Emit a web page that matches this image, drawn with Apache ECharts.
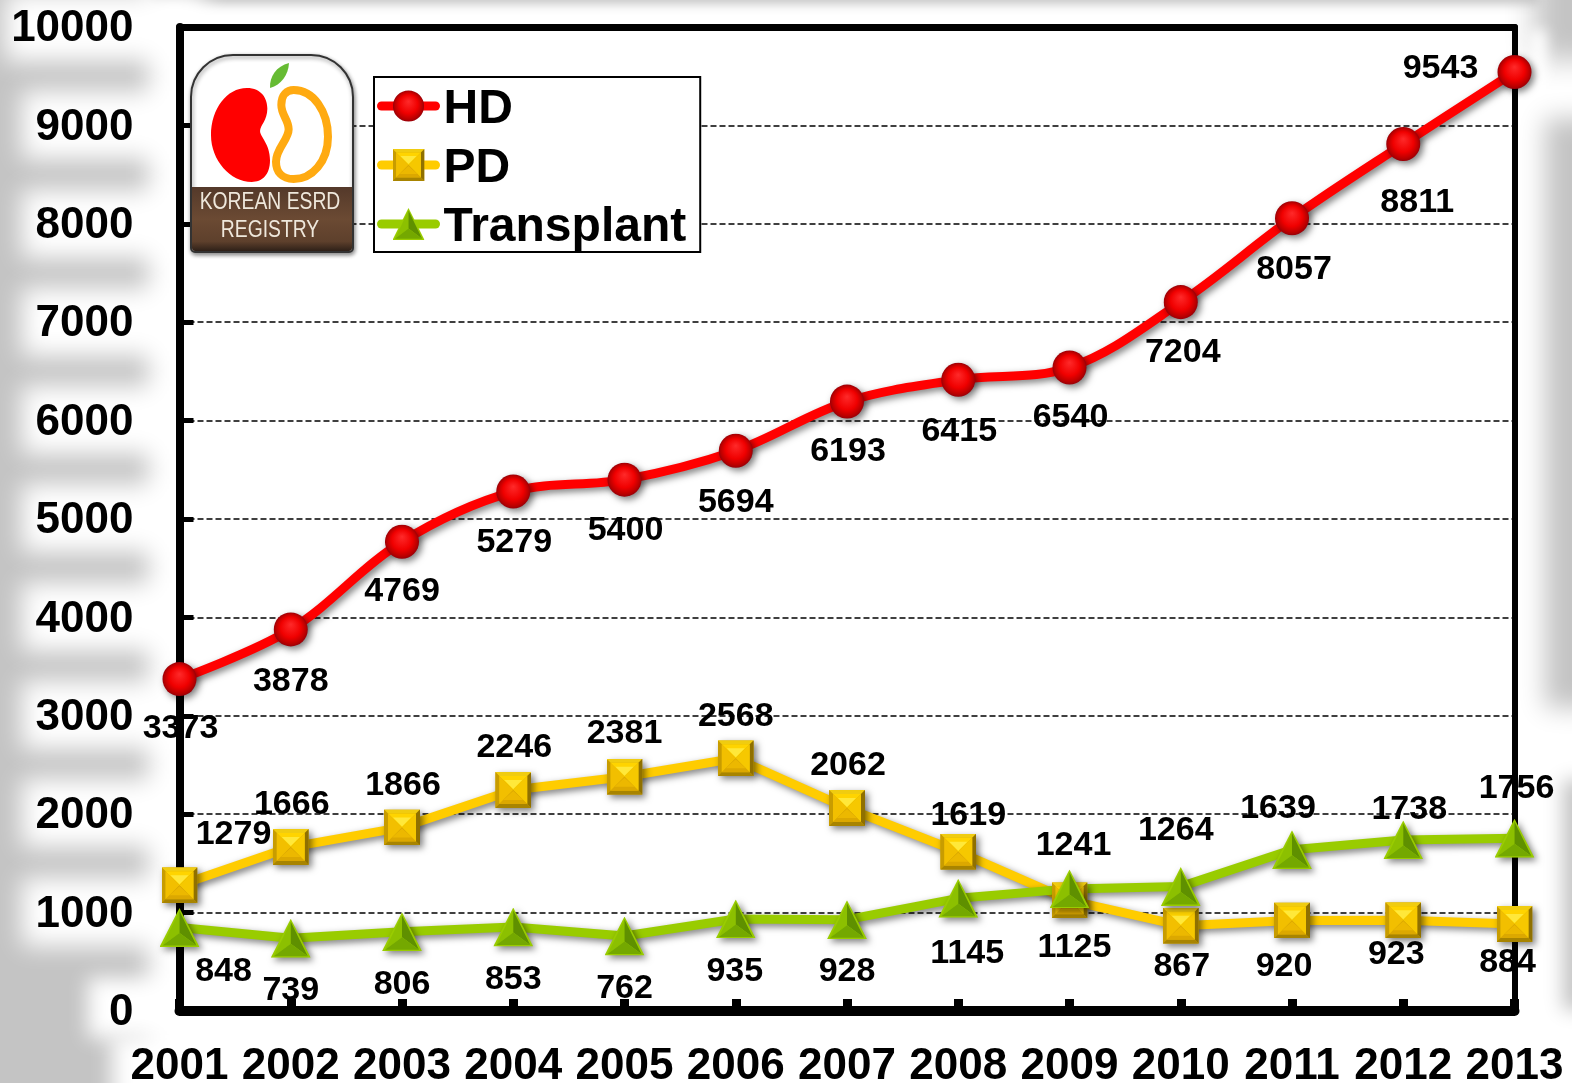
<!DOCTYPE html>
<html><head><meta charset="utf-8">
<style>html,body{margin:0;padding:0;background:#fff}#c{width:1572px;height:1083px}</style>
<script src="https://cdn.jsdelivr.net/npm/echarts@6/dist/echarts.min.js"></script></head>
<body><div id="c"></div>
<script>
const years=['2001','2002','2003','2004','2005','2006','2007','2008','2009','2010','2011','2012','2013'];
const hd=[3373,3878,4769,5279,5400,5694,6193,6415,6540,7204,8057,8811,9543];
const pd=[1279,1666,1866,2246,2381,2568,2062,1619,1125,867,920,923,884];
const tx=[848,739,806,853,762,935,928,1145,1241,1264,1639,1738,1756];
// label offsets from each point (style only)
const hdOff=[[1,50],[0,52],[0,50],[1,51],[1,51],[0,52],[1,50],[1,52],[1,50],[2,50],[2,51],[14,59],[-74,-3]];
const pdOff=[[54,-51],[1,-42],[1,-42],[1,-42],[0,-43],[0,-42],[1,-42],[10,-36],[5,47],[1,41],[-8,46],[-7,34],[-7,39]];
const txOff=[[44,44],[0,52],[0,53],[0,53],[0,53],[-1,53],[0,52],[9,55],[4,-43],[-5,-56],[-14,-41],[6,-30],[2,-50]];
const FONT='"Liberation Sans",Arial,sans-serif';
const svg=s=>'image://data:image/svg+xml;charset=utf-8,'+encodeURIComponent(s);
const symHD=svg(`<svg xmlns="http://www.w3.org/2000/svg" width="72" height="72" viewBox="0 0 36 36"><defs><radialGradient id="g" cx="50%" cy="50%" r="50%" fx="50%" fy="35%"><stop offset="0" stop-color="#ff2a2a"/><stop offset=".6" stop-color="#f00000"/><stop offset=".88" stop-color="#bb0000"/><stop offset="1" stop-color="#980008"/></radialGradient></defs><circle cx="18" cy="18" r="17.5" fill="url(#g)"/></svg>`);
const symPD=svg(`<svg xmlns="http://www.w3.org/2000/svg" width="72" height="72" viewBox="0 0 36 36"><rect width="36" height="36" fill="#d4a800"/><polygon points="0,0 36,0 32,4 4,4" fill="#f0cc10"/><polygon points="0,0 4,4 4,32 0,36" fill="#c89c00"/><polygon points="36,0 36,36 32,32 32,4" fill="#8f7000"/><polygon points="0,36 36,36 32,32 4,32" fill="#a88400"/><polygon points="4,4 32,4 18,18" fill="#ffd400"/><polygon points="4,4 4,32 18,18" fill="#f2bf00"/><polygon points="32,4 32,32 18,18" fill="#f6c800"/><polygon points="4,32 32,32 18,18" fill="#dca800"/><polygon points="9,8 27,8 18,17" fill="#ffe83a"/><polygon points="18,19 8,28 28,28" fill="#ecb800"/></svg>`);
const symTX=svg(`<svg xmlns="http://www.w3.org/2000/svg" width="80" height="78" viewBox="0 0 40 39"><polygon points="20,0 40,39 0,39" fill="#99cc00"/><polygon points="20,3 3,37.5 20,25" fill="#8cc000"/><polygon points="20,3 37,37.5 20,25" fill="#5f9000"/><polygon points="3,37.5 37,37.5 20,25" fill="#74a800"/></svg>`);
const shadow={shadowColor:'rgba(0,0,0,0.5)',shadowBlur:7,shadowOffsetX:3,shadowOffsetY:3};
function lineSeries(name,values,color,symbol,size,smooth){
  return {type:'line',name,data:values,smooth,z:5,clip:false,symbol,symbolSize:size,showAllSymbol:true,
    lineStyle:{color,width:9,cap:'round',...shadow},itemStyle:{color,...shadow},label:{show:false},emphasis:{disabled:true}};
}
function labelSeries(name,values,offs){
  return {type:'scatter',name,z:1,clip:false,silent:true,symbolSize:1,itemStyle:{opacity:0},
    data:values.map((v,i)=>({value:v,label:{offset:offs[i]}})),
    label:{show:true,position:'inside',opacity:1,color:'#000',fontFamily:FONT,fontWeight:'bold',fontSize:34,formatter:p=>String(p.value)}};
}
const GRAY='#c4c4c4', OFF=4000;
// soft-edged rectangles: only the blurred shadow is on the page
const soft=(color,z,x,y,w,h,b)=>({type:'rect',z,silent:true,shape:{x:x-OFF,y,width:w,height:h},style:{fill:color,shadowColor:color,shadowBlur:b,shadowOffsetX:OFF}});
const softGray=(x,y,w,h,b)=>soft(GRAY,-5,x,y,w,h,b);
const softWhite=(x,y,w,h,b)=>soft('#fff',-4,x,y,w,h,b);
const bg=[softGray(-60,-60,208,1203,22),softGray(1545,118,90,590,24),softGray(1535,-60,90,120,30),softGray(150,-60,1390,64,10),softGray(1563,780,60,230,18)];
[27,125,224,322,420,518,617,715,813,912].forEach((y,i)=>bg.push(softWhite(i===0?5:22,y-34,200,68,24)));
bg.push(softWhite(88,978,140,60,20),softWhite(112,1035,140,90,20),softWhite(1530,30,16,70,14));
const redPath='M200 143C245 143 262 175 262 205C262 240 240 255 240 272C240 290 270 310 270 360C270 405 245 425 215 425C150 425 92 360 92 285C92 205 140 143 200 143Z';
const orangePath='M340 150C400 150 443 215 443 290C443 365 395 417 340 417C305 417 287 395 287 365C287 325 325 300 325 268C325 240 303 225 303 195C303 165 320 150 340 150Z';
const leafPath='M327 68C290 78 270 110 272 145C305 135 325 105 327 68Z';
const logoText=(t,y)=>({type:'text',x:270,y,scaleX:.84,silent:true,style:{text:t,fill:'#efe8dc',font:'23px "Liberation Sans",sans-serif',align:'center',verticalAlign:'middle'}});
function renderLogo(){
 return {type:'group',silent:true,children:[
  {type:'rect',shape:{x:191,y:55,width:162,height:197,r:[42,42,4,4]},style:{fill:'#fff',stroke:'#333',lineWidth:2,shadowColor:'rgba(0,0,0,.45)',shadowBlur:4,shadowOffsetX:1,shadowOffsetY:2}},
  {type:'rect',shape:{x:192,y:187,width:160,height:64,r:[0,0,3,3]},style:{fill:new echarts.graphic.LinearGradient(0,0,0,1,[{offset:0,color:'#54392a'},{offset:.5,color:'#6b4a33'},{offset:.85,color:'#5e402c'},{offset:1,color:'#2e2018'}])}},
  {type:'path',shape:{pathData:redPath,x:211,y:88,width:59,height:94,layout:'cover'},style:{fill:'#ff0000'}},
  {type:'path',shape:{pathData:orangePath,x:276,y:90,width:52,height:89,layout:'cover'},style:{fill:'none',stroke:'#ffaa11',lineWidth:8}},
  {type:'path',shape:{pathData:leafPath,x:270,y:63,width:19,height:25,layout:'cover'},style:{fill:'#66bb33'}},
  logoText('KOREAN ESRD',203),logoText('REGISTRY',231)
 ]};
}
const chart=echarts.init(document.getElementById('c'),null,{renderer:'canvas'});
chart.setOption({
 animation:false,backgroundColor:'#fff',
 graphic:{elements:bg},
 grid:{left:179.5,top:27,width:1335,height:984,containLabel:false,outerBoundsMode:'none'},
 legend:{data:['HD','PD','Transplant'],orient:'vertical',left:374,top:77,z:4,padding:[1,14,0,3],itemWidth:54,itemHeight:40,itemGap:3,selectedMode:false,
   backgroundColor:'#fff',borderColor:'#000',borderWidth:2,borderRadius:0,
   lineStyle:{width:9,cap:'round'},
   formatter:n=>'{t|'+n+'}',
   textStyle:{fontFamily:FONT,fontWeight:'bold',fontSize:48,color:'#000',
     rich:{t:{fontFamily:FONT,fontWeight:'bold',fontSize:48,lineHeight:47,color:'#000',padding:[8,0,0,3]}}}},
 xAxis:[
  {type:'category',data:years,boundaryGap:false,z:3,position:'bottom',axisLine:{onZero:false,lineStyle:{color:'#000',width:10}},axisTick:{inside:true,alignWithLabel:true,length:12,lineStyle:{color:'#000',width:9}},
   axisLabel:{interval:0,margin:34,color:'#000',fontFamily:FONT,fontWeight:'bold',fontSize:44},splitLine:{show:false}},
  {type:'category',data:years,boundaryGap:false,z:3,position:'top',axisLine:{onZero:false,lineStyle:{color:'#000',width:7}},axisTick:{show:false},axisLabel:{show:false},splitLine:{show:false}}
 ],
 yAxis:[
  {type:'value',min:0,max:10000,interval:1000,z:3,position:'left',axisLine:{show:true,onZero:false,lineStyle:{color:'#000',width:8}},axisTick:{show:true,inside:true,length:14,lineStyle:{color:'#000',width:5}},
   axisLabel:{margin:46,color:'#000',fontFamily:FONT,fontWeight:'bold',fontSize:44,formatter:v=>'{t|'+v+'}',
     rich:{t:{fontFamily:FONT,fontWeight:'bold',fontSize:44,color:'#000',padding:[4,0,0,0]}}},
   splitLine:{show:true,lineStyle:{color:'#000',width:1.5,type:[6,3]}}},
  {type:'value',min:0,max:10000,interval:1000,z:3,position:'right',axisLine:{show:true,onZero:false,lineStyle:{color:'#000',width:6}},axisTick:{show:false},axisLabel:{show:false},splitLine:{show:false}}
 ],
 series:[
  labelSeries('HD values',hd,hdOff),labelSeries('PD values',pd,pdOff),labelSeries('Transplant values',tx,txOff),
  lineSeries('HD',hd,'#ff0000',symHD,35,0.35),
  lineSeries('PD',pd,'#ffcc00',symPD,36,false),
  lineSeries('Transplant',tx,'#99cc00',symTX,[40,39],false),
  {type:'custom',name:'logo',coordinateSystem:'none',z:10,silent:true,data:[0],renderItem:renderLogo}
 ]
});
setTimeout(()=>chart.resize(),200);
</script></body></html>
